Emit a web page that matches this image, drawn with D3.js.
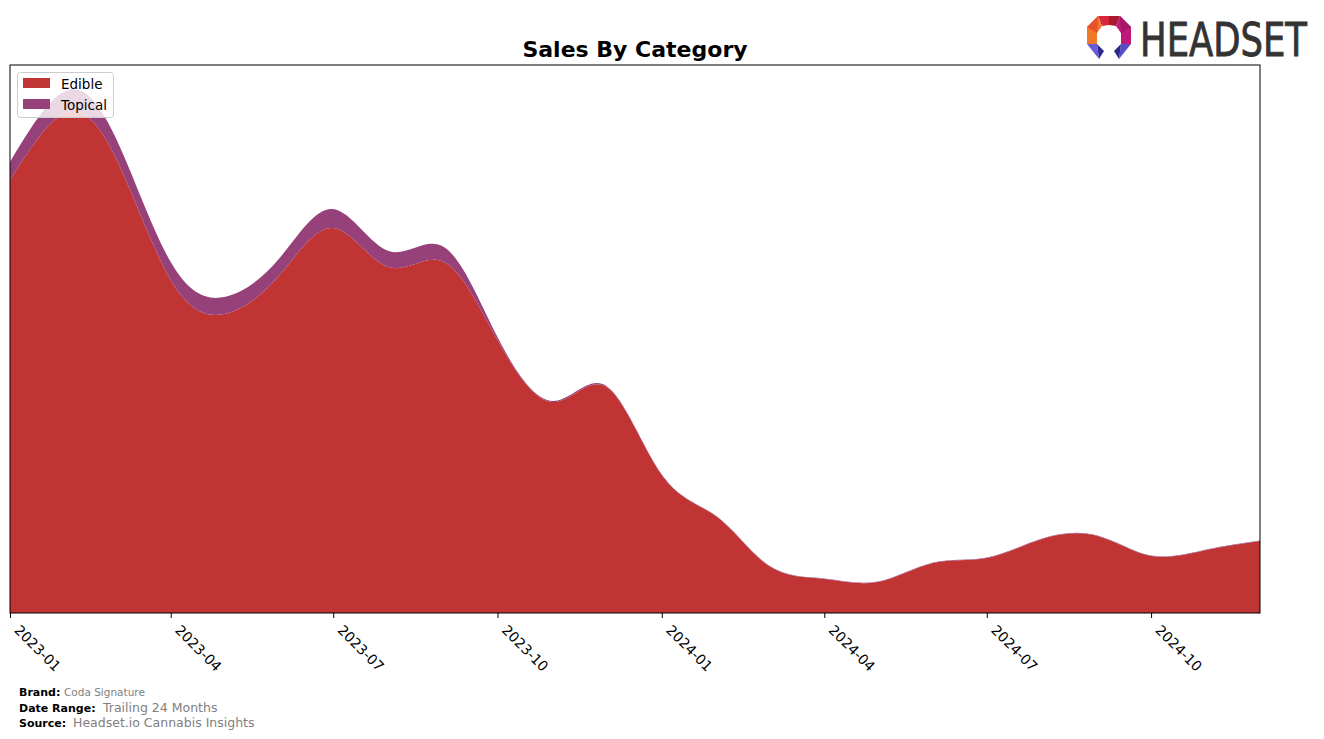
<!DOCTYPE html>
<html>
<head>
<meta charset="utf-8">
<script src="https://cdn.jsdelivr.net/npm/d3@7"></script>
<style>
  html, body { margin: 0; padding: 0; background: #fff; }
  svg { display: block; font-family: "DejaVu Sans", sans-serif; }
</style>
</head>
<body>
<svg id="chart" width="1324" height="739"></svg>
<script>
// ---- data ----
const months = ["2023-01","2023-02","2023-03","2023-04","2023-05","2023-06","2023-07","2023-08","2023-09","2023-10","2023-11","2023-12",
                "2024-01","2024-02","2024-03","2024-04","2024-05","2024-06","2024-07","2024-08","2024-09","2024-10","2024-11","2024-12"];
const edible  = [433, 500, 456, 333, 299, 338, 385, 346, 351, 273, 211, 226,
                 138, 96, 47, 34, 31, 50, 55, 74, 77, 57, 63, 72];
const topical = [18, 22, 20, 18, 17, 17, 19, 16, 15, 3, 1, 1,
                 0.5, 0.5, 0.5, 0.5, 0.5, 0.5, 0.5, 0.5, 0.5, 0.5, 0.5, 0.5];
const tickLabels = ["2023-01","2023-04","2023-07","2023-10","2024-01","2024-04","2024-07","2024-10"];
const seriesNames = ["Edible", "Topical"];
const colors = ["#c03434", "#96417a"];

// ---- layout ----
const svg = d3.select("#chart");
const L = 10, R = 1260, T = 65, B = 613;
const parse = d3.timeParse("%Y-%m");

const rows = months.map((m, i) => ({ date: parse(m), Edible: edible[i], Topical: topical[i] }));
const stack = d3.stack().keys(seriesNames);
const layers = stack(rows);

const x = d3.scaleTime().domain([parse(months[0]), parse(months[months.length - 1])]).range([L, R]);
const yMax = d3.max(layers[layers.length - 1], d => d[1]) * 1.05;
const y = d3.scaleLinear().domain([0, yMax]).range([B, T]);

svg.append("clipPath").attr("id", "plotclip")
  .append("rect").attr("x", L).attr("y", T).attr("width", R - L).attr("height", B - T);

const area = d3.area()
  .x(d => x(d.data.date))
  .y0(d => y(d[0]))
  .y1(d => y(d[1]))
  .curve(d3.curveNatural);

svg.append("g").attr("clip-path", "url(#plotclip)")
  .selectAll("path").data(layers).join("path")
  .attr("d", area)
  .attr("fill", (d, i) => colors[i]);

// frame
svg.append("rect").attr("x", L).attr("y", T).attr("width", R - L).attr("height", B - T)
  .attr("fill", "none").attr("stroke", "#000").attr("stroke-width", 1);

// x axis
const tickDates = tickLabels.map(parse);
const xAxis = d3.axisBottom(x).tickValues(tickDates).tickFormat(d3.timeFormat("%Y-%m")).tickSize(5).tickPadding(3);
const gx = svg.append("g").attr("transform", `translate(0,${B})`).call(xAxis);
gx.select(".domain").remove();
gx.selectAll(".tick line").attr("stroke", "#000");
gx.selectAll(".tick text")
  .attr("font-size", 14)
  .attr("font-family", "DejaVu Sans")
  .attr("fill", "#000")
  .attr("text-anchor", "start")
  .attr("dy", null)
  .attr("y", 0)
  .attr("transform", "translate(3,18) rotate(45)");

// title
svg.append("text").attr("x", 635).attr("y", 57).attr("text-anchor", "middle")
  .attr("font-size", 22).attr("font-weight", "bold").attr("fill", "#000")
  .text("Sales By Category");

// legend
const lg = svg.append("g");
lg.append("rect").attr("x", 17.5).attr("y", 72.5).attr("width", 96).attr("height", 45).attr("rx", 3)
  .attr("fill", "#fff").attr("fill-opacity", 0.8).attr("stroke", "#cccccc");
seriesNames.forEach((n, i) => {
  lg.append("rect").attr("x", 23).attr("y", 78 + i * 21).attr("width", 27).attr("height", 10).attr("fill", colors[i]);
  lg.append("text").attr("x", 61).attr("y", 89 + i * 21).attr("font-size", 13.5).attr("fill", "#000").text(n);
});

// footer
const foot = [
  { label: "Brand:", value: "Coda Signature", y: 696, vx: 64, vs: 10.5 },
  { label: "Date Range:", value: "Trailing 24 Months", y: 712, vx: 103, vs: 12.5 },
  { label: "Source:", value: "Headset.io Cannabis Insights", y: 727, vx: 73, vs: 12.5 }
];
foot.forEach(f => {
  svg.append("text").attr("x", 19).attr("y", f.y).attr("font-size", 11).attr("font-weight", "bold").attr("fill", "#000").text(f.label);
  svg.append("text").attr("x", f.vx).attr("y", f.y).attr("font-size", f.vs).attr("fill", "#808080").text(f.value);
});

// logo
const logo = svg.append("g");
const facets = [
  { p: [[1098,16],[1109,16],[1109,25],[1102,26]], c: "#d8263c" },
  { p: [[1109,16],[1120,16],[1116,26],[1109,25]], c: "#a8182e" },
  { p: [[1098,16],[1102,26],[1097,33],[1097,44],[1087,44],[1087,27]], c: "#f07a2a" },
  { p: [[1087,27],[1098,16],[1097,33]], c: "#e8502e" },
  { p: [[1120,16],[1131,27],[1131,44],[1121,44],[1121,33],[1116,26]], c: "#c2187a" },
  { p: [[1120,16],[1131,27],[1121,33]], c: "#a5166a" },
  { p: [[1087,44],[1097,44],[1099,59]], c: "#6a5cd6" },
  { p: [[1097,44],[1104,51],[1099,59]], c: "#2e2a8c" },
  { p: [[1121,44],[1131,44],[1119,59]], c: "#5a4cc8" },
  { p: [[1121,44],[1114,51],[1119,59]], c: "#2a2884" }
];
facets.forEach(f => logo.append("polygon").attr("points", f.p.map(q => q.join(",")).join(" ")).attr("fill", f.c));
const logoText = logo.append("text").attr("x", 0).attr("y", 0).attr("font-size", 46)
  .attr("font-family", "'DejaVu Sans Condensed', 'Liberation Sans Narrow', 'DejaVu Sans', sans-serif")
  .attr("fill", "#333333").attr("stroke", "#333333").attr("stroke-width", 0.8).text("HEADSET");
const natural = logoText.node().getComputedTextLength();
const sx = 167 / natural;
logoText.attr("transform", `translate(1140,56) scale(${sx},1)`);
</script>
</body>
</html>
